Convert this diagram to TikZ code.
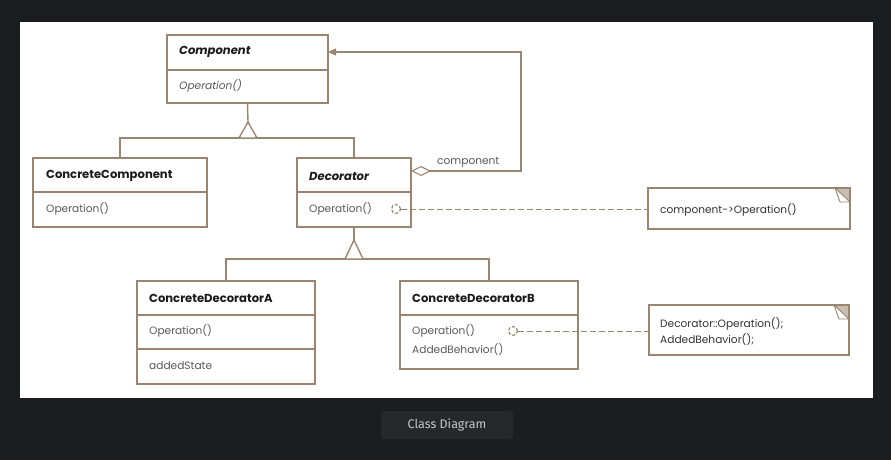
\documentclass[tikz,border=0pt]{standalone}
\usepackage{fontspec}
\setmainfont{Poppins}
\newfontfamily\capfont{Fira Sans}
\usetikzlibrary{arrows.meta,shapes.geometric}
\definecolor{bgdark}{HTML}{1C1D20}
\definecolor{strokec}{HTML}{9A8670}
\definecolor{optext}{HTML}{595959}
\definecolor{titletext}{HTML}{1A1A1A}
\definecolor{foldc}{HTML}{C9BFB4}
\definecolor{capbg}{HTML}{26282C}
\definecolor{captext}{HTML}{C8C8C8}
\begin{document}
\begin{tikzpicture}[x=1pt,y=-1pt,
  box/.style={draw=strokec, line width=1.4pt, fill=white, anchor=north west, inner sep=0pt, outer sep=0pt},
  divider/.style={draw=strokec, line width=1.4pt},
  conn/.style={draw=strokec, line width=1.4pt},
  dconn/.style={draw=strokec, line width=0.9pt, dash pattern=on 6pt off 3pt},
  ctitle/.style={anchor=west, font=\fontsize{11.6}{13}\selectfont\bfseries, text=titletext, inner sep=0pt},
  atitle/.style={anchor=west, font=\fontsize{11.6}{13}\selectfont\bfseries\itshape, text=titletext, inner sep=0pt},
  optxt/.style={anchor=west, font=\fontsize{10.6}{12}\selectfont, text=optext, inner sep=0pt},
  aoptxt/.style={anchor=west, font=\fontsize{10.6}{12}\selectfont\itshape, text=optext, inner sep=0pt},
  notebox/.style={draw=strokec, line width=1.4pt, fill=white, anchor=north west, inner sep=0pt, outer sep=0pt},
  ntxt/.style={anchor=west, font=\fontsize{10.6}{12}\selectfont, text=black!80, inner sep=0pt},
  gen/.style={draw=strokec, line width=1.4pt, fill=white},
  dcirc/.style={circle, draw=strokec, line width=1.2pt, dash pattern=on 3pt off 2pt, minimum size=9pt, inner sep=0pt, fill=white}
]
\useasboundingbox (0,0) rectangle (891,460);
\fill[bgdark] (0,0) rectangle (891,460);
\fill[white] (20,22) rectangle (873,398);

% caption
\node[fill=capbg, rounded corners=3pt, minimum width=132pt, minimum height=28pt, inner sep=0pt, text=captext, font=\capfont\fontsize{12.5}{14}\selectfont] (cap) at (447,425) {Class Diagram};

% boxes
\node[box, minimum width=161pt, minimum height=68pt] (comp) at (167,35) {};
\node[box, minimum width=174pt, minimum height=69pt] (cc) at (33,158) {};
\node[box, minimum width=114pt, minimum height=69pt] (dec) at (297,158) {};
\node[box, minimum width=178pt, minimum height=103pt] (cda) at (137,281) {};
\node[box, minimum width=178pt, minimum height=88pt] (cdb) at (400,281) {};
\node[notebox, minimum width=202pt, minimum height=41pt] (n1) at (648,188) {};
\node[notebox, minimum width=200pt, minimum height=50pt] (n2) at (649,305) {};

% dividers
\draw[divider] (167,70) -- (328,70);
\draw[divider] (33,192) -- (207,192);
\draw[divider] (297,192) -- (411,192);
\draw[divider] (137,315) -- (315,315);
\draw[divider] (137,349) -- (315,349);
\draw[divider] (400,315) -- (578,315);

% note folds
\foreach \n in {n1,n2}{
  \fill[foldc] ([xshift=-15pt]\n.north east) -- (\n.north east) -- ([yshift=-15pt]\n.north east) -- cycle;
  \filldraw[fill=white, draw=strokec, line width=0.9pt, line join=round] ([xshift=-15pt]\n.north east) -- ([xshift=-10pt,yshift=-14pt]\n.north east) -- ([yshift=-14pt]\n.north east) -- cycle;
  \draw[strokec, line width=1.4pt] (\n.north west) rectangle (\n.south east);
}

% texts
\node[atitle] (tcomp) at (179,52) {Component};
\node[aoptxt] (ocomp) at (179,86) {Operation()};
\node[ctitle] (tcc) at (46,176) {ConcreteComponent};
\node[optxt] (occ) at (46,209) {Operation()};
\node[atitle] (tdec) at (309,176) {Decorator};
\node[optxt] (odec) at (309,209) {Operation()};
\node[ctitle] (tcda) at (149,298) {ConcreteDecoratorA};
\node[optxt] (ocda) at (149,331) {Operation()};
\node[optxt] (scda) at (149,366) {addedState};
\node[ctitle] (tcdb) at (412,298) {ConcreteDecoratorB};
\node[optxt] (ocdb) at (412,331) {Operation()};
\node[optxt] (bcdb) at (412,350) {AddedBehavior()};
\node[ntxt] (tn1) at (660,210) {component->Operation()};
\node[ntxt, align=left, font=\fontsize{10.6}{16}\selectfont] (tn2) at (660,332) {Decorator::Operation();\\AddedBehavior();};

% generalization 1
\coordinate (apex1) at (248,122);
\draw[conn] (cc.north) -- ++(0,-20) -| (dec.north);
\draw[conn] (comp.south) -- (apex1);
\filldraw[gen] (apex1) -- (257,138) -- (239,138) -- cycle;

% generalization 2
\coordinate (apex2) at (354,240);
\draw[conn] (cda.north) -- ++(0,-22) -| (cdb.north);
\draw[conn] (dec.south) -- (apex2);
\filldraw[gen] (apex2) -- (363,259) -- (345,259) -- cycle;

% aggregation
\draw[conn, line join=miter, {Diamond[open, fill=white, length=20pt, width=10pt, line width=1.1pt]}-{Triangle[length=8pt, width=7pt]}]
  ([yshift=-13pt]dec.north east) -- ++(110,0) |- ([yshift=-17pt]comp.north east);
\node[anchor=south west, inner sep=0pt, font=\fontsize{10.6}{12}\selectfont, text=optext] (lcomp) at (437,167) {component};

% note links
\node[dcirc] (c1) at (396,209) {};
\node[dcirc] (c2) at (513,331) {};
\draw[dconn] (c1) -- (n1.west |- c1);
\draw[dconn] (c2) -- (n2.west |- c2);
\end{tikzpicture}
\end{document}
